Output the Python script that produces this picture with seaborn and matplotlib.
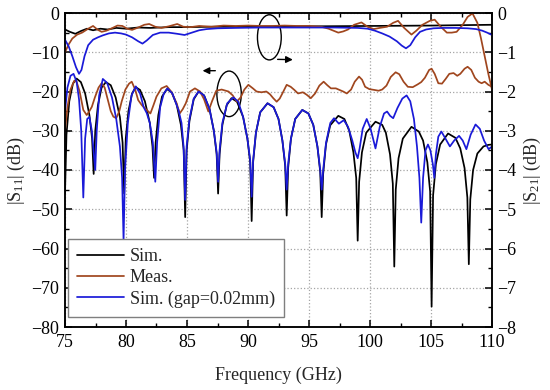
import matplotlib

matplotlib.use("Agg")
import matplotlib.pyplot as plt
import matplotlib.ticker as tick
import numpy as np
import pandas as pd
import seaborn as sns
from matplotlib.patches import Ellipse

# ------------------------------ data

# |S11| simulated (black)
SIM_S11_F = [
    75.0, 75.12, 75.35, 75.65, 75.95, 76.3, 76.65, 77.0, 77.22, 77.35,
    77.48, 77.7, 78.0, 78.35, 78.75, 79.15, 79.5, 79.72, 79.85,
    79.98, 80.2, 80.5, 80.8, 81.15, 81.55, 81.95, 82.17, 82.3,
    82.43, 82.65, 82.95, 83.35, 83.75, 84.15, 84.5, 84.73, 84.85,
    84.97, 85.2, 85.55, 85.95, 86.4, 86.85, 87.2, 87.43, 87.55,
    87.67, 87.9, 88.25, 88.65, 89.1, 89.6, 89.95, 90.18, 90.3,
    90.42, 90.65, 91.0, 91.6, 92.1, 92.5, 92.82, 93.05, 93.17,
    93.29, 93.52, 93.87, 94.45, 94.95, 95.35, 95.69, 95.92, 96.04,
    96.16, 96.39, 96.74, 97.4, 97.9, 98.3, 98.64, 98.87, 98.99,
    99.11, 99.34, 99.69, 100.45, 101.0, 101.3, 101.64, 101.87, 101.99,
    102.11, 102.34, 102.69, 103.4, 104.0, 104.35, 104.7, 104.93, 105.05,
    105.17, 105.4, 105.75, 106.4, 107.0, 107.4, 107.75, 107.98, 108.1,
    108.22, 108.45, 108.8, 109.3, 109.7, 110.0,
]
SIM_S11 = [
    -46, -31, -22.5, -18, -16.7, -17.6, -20.5, -26, -32, -41,
    -30, -23.5, -19, -17.6, -18.4, -21.5, -26.5, -33, -46,
    -32, -25, -20.5, -18.9, -19.6, -22.5, -28, -34, -42,
    -33, -26, -21.3, -19.4, -20.2, -23.3, -28.5, -35, -52,
    -35, -27.5, -22, -20, -21, -24.5, -30, -36, -46,
    -36, -28.5, -23.5, -21.7, -22.6, -26.5, -32, -38, -53,
    -38, -30.5, -25.3, -23, -24, -27, -32.5, -39, -51.6,
    -39.5, -32, -27, -24.7, -25.6, -28.5, -34, -40.5, -52,
    -41, -33.5, -28.6, -26.2, -27, -30, -35.5, -42, -58,
    -43, -35.5, -30.5, -27.7, -28.5, -30.5, -36, -43.5, -64.6,
    -45, -37, -32, -29, -30.2, -32.5, -38, -45.5, -74.8,
    -46.5, -38.5, -33.5, -30.7, -31.8, -34.5, -39.5, -47, -64,
    -47.5, -40, -35.8, -34, -33.6, -33.5,
]

# |S11| measured (brown)
MEAS_S11_F = [
    75.0, 75.2, 75.45, 75.75, 75.95, 76.2, 76.5, 76.78, 77.0, 77.2,
    77.45, 77.75, 78.0, 78.25, 78.5, 78.75, 78.96, 79.2, 79.45, 79.65,
    79.95, 80.25, 80.47, 80.75, 81.0, 81.3, 81.56, 81.8, 82.0, 82.25,
    82.5, 82.9, 83.33, 83.7, 84.0, 84.15, 84.4, 84.65, 84.9, 85.25,
    85.65, 86.07, 86.4, 86.75, 87.05, 87.4, 87.84, 88.4, 88.75, 89.07,
    89.4, 89.7, 90.03, 90.4, 90.7, 91.1, 91.5, 91.8, 92.07, 92.35,
    92.6, 92.85, 93.17, 93.5, 93.8, 94.1, 94.5, 94.8, 95.15, 95.5,
    95.85, 96.2, 96.5, 96.8, 97.2, 97.5, 97.8, 98.1, 98.45, 98.75,
    99.1, 99.35, 99.6, 99.95, 100.35, 100.7, 101.0, 101.35, 101.7, 102.1,
    102.4, 102.75, 103.1, 103.5, 103.9, 104.2, 104.5, 104.85, 105.05, 105.3,
    105.6, 105.9, 106.2, 106.5, 106.85, 107.15, 107.4, 107.75, 108.0, 108.3,
    108.6, 108.9, 109.15, 109.4, 109.7, 110.0,
]
MEAS_S11 = [
    -30, -24, -19.5, -17.3, -17.5, -20, -24.7, -26, -25, -23.9,
    -21.5, -19, -17.9, -19, -22, -25, -26.4, -26.8, -25, -22.5,
    -19.5, -18, -17.5, -19.5, -22.2, -23.5, -24.3, -25, -25.6, -23.5,
    -21.3, -19.2, -18.6, -20, -22, -23, -25.6, -24.5, -23, -20,
    -19.2, -20, -22, -25.1, -22.5, -19.8, -19.5, -20, -21, -22.6,
    -21.5, -19.5, -18.3, -19.2, -20, -20.2, -20, -20.7, -21.7, -22.6,
    -21.8, -20.3, -18.3, -18.8, -19.6, -20.5, -20.2, -20.8, -21.7, -20.5,
    -18.5, -17.5, -18.4, -19.2, -19.2, -19.6, -20, -20.5, -19.5, -17.5,
    -16.2, -17, -18.8, -19.4, -19.6, -19.8, -19.5, -18.5, -16.3, -15.1,
    -15.6, -17.5, -18.8, -18.9, -18.2, -17.6, -16.5, -14.5, -14.2, -15.5,
    -17.9, -18, -16.8, -15.5, -15.3, -16, -15.5, -14.2, -13.7, -14.5,
    -16.5, -17.5, -17.9, -17.5, -18.3, -18.8,
]

# |S11| simulated with gap=0.02mm (blue)
GAP_S11_F = [
    75.0, 75.2, 75.45, 75.7, 75.95, 76.15, 76.33, 76.5, 76.65, 76.82,
    77.0, 77.2, 77.37, 77.48, 77.6, 77.8, 78.1, 78.45, 78.85, 79.2,
    79.5, 79.68, 79.8, 79.92, 80.15, 80.45, 80.8, 81.15, 81.45, 81.7,
    81.95, 82.2, 82.4, 82.55, 82.8, 83.1, 83.4, 83.8, 84.1, 84.3,
    84.55, 84.72, 84.85, 84.97, 85.2, 85.55, 85.95, 86.4, 86.85, 87.2,
    87.43, 87.55, 87.67, 87.9, 88.3, 88.8, 89.2, 89.6, 89.95, 90.18,
    90.3, 90.42, 90.65, 91.0, 91.6, 92.1, 92.5, 92.82, 93.05, 93.17,
    93.29, 93.52, 93.87, 94.45, 94.95, 95.35, 95.69, 95.92, 96.04, 96.16,
    96.4, 96.75, 97.05, 97.45, 97.85, 98.2, 98.55, 98.8, 98.99, 99.15,
    99.4, 99.73, 100.05, 100.45, 100.8, 101.15, 101.4, 101.65, 101.9, 102.25,
    102.65, 103.0, 103.3, 103.6, 103.85, 104.05, 104.2, 104.35, 104.55, 104.75,
    104.95, 105.15, 105.27, 105.4, 105.6, 105.85, 106.15, 106.55, 106.9, 107.3,
    107.6, 107.9, 108.25, 108.65, 109.0, 109.35, 109.72, 110.0,
]
GAP_S11 = [
    -25, -19, -16, -15.5, -17.5, -22, -30, -47, -32, -27,
    -26.5, -30, -36, -40, -30, -21, -16.8, -17.8, -21.5, -27,
    -34, -42, -58, -40, -28, -21, -18.7, -20.5, -24, -25.5,
    -28, -33, -43, -33, -24, -20.5, -19.2, -20.5, -23, -24.7,
    -28, -34, -47.6, -34, -27, -21.8, -20, -21, -24.5, -30,
    -35.5, -43, -35, -28, -23, -21.5, -22.6, -26.5, -32, -37.5,
    -46.8, -37.5, -30.5, -25.3, -23, -24, -27, -32.5, -38.5, -45,
    -38.5, -32, -27, -24.7, -25.6, -28.5, -34, -40, -45, -40,
    -33, -28, -26.8, -28.2, -27.3, -29, -32.5, -35.5, -37, -34.5,
    -29.5, -27, -29.5, -34.5, -29, -25.6, -25.1, -26.2, -26.8, -24.2,
    -21.8, -21, -22.5, -27, -34, -42, -53.4, -42, -35, -33.5,
    -35, -38.5, -42, -36, -31.5, -30.2, -31.8, -34, -32.5, -31.3,
    -32.5, -34.7, -31, -28.4, -29.5, -32.5, -34.7, -34,
]

# |S21| (right axis)
SIM_S21_F = [75.0, 75.4, 75.85, 76.3, 76.8, 77.3, 77.9, 78.5, 79.2, 80.0,
             81.0, 82.0, 83.5, 85.0, 87.0, 90.0, 95.0, 100.0, 105.0, 110.0]
SIM_S21 = [-0.42, -0.48, -0.53, -0.46, -0.4, -0.44, -0.4, -0.42, -0.38, -0.4,
           -0.37, -0.38, -0.36, -0.36, -0.35, -0.35, -0.34, -0.33, -0.32, -0.3]

MEAS_S21_F = [
    75.0, 75.3, 75.6, 76.0, 76.4, 76.9, 77.3, 77.65, 78.0, 78.4,
    78.9, 79.3, 79.7, 80.1, 80.5, 81.0, 81.5, 81.9, 82.4, 82.9,
    83.5, 84.2, 84.7, 85.3, 86.0, 87.0, 88.0, 89.0, 90.0, 91.0,
    92.0, 93.0, 94.0, 95.0, 96.0, 96.6, 97.0, 97.4, 97.8, 98.2,
    98.7, 99.3, 99.8, 100.3, 100.8, 101.4, 101.9, 102.3, 102.8, 103.4,
    103.8, 104.3, 104.9, 105.3, 105.8, 106.3, 106.7, 107.1, 107.6, 108.0,
    108.4, 108.8, 109.1, 109.4, 109.7, 110.0,
]
MEAS_S21 = [
    -1.0, -0.8, -0.65, -0.55, -0.5, -0.4, -0.33, -0.42, -0.48, -0.45,
    -0.38, -0.32, -0.33, -0.4, -0.43, -0.37, -0.3, -0.28, -0.35, -0.38,
    -0.34, -0.28, -0.35, -0.36, -0.33, -0.35, -0.32, -0.33, -0.32, -0.33,
    -0.33, -0.32, -0.33, -0.33, -0.35, -0.4, -0.45, -0.5, -0.47, -0.42,
    -0.3, -0.24, -0.35, -0.41, -0.38, -0.35, -0.25, -0.2, -0.38, -0.55,
    -0.45, -0.3, -0.2, -0.17, -0.35, -0.5, -0.5, -0.48, -0.3, -0.1,
    -0.01, -0.25, -0.65, -1.1, -1.55, -1.95,
]

GAP_S21_F = [
    75.0, 75.3, 75.6, 75.9, 76.15, 76.35, 76.6, 76.9, 77.3, 77.7,
    78.1, 78.6, 79.1, 79.6, 80.0, 80.5, 81.0, 81.35, 81.7, 82.2,
    82.8, 83.5, 84.2, 84.8, 85.4, 86.0, 86.6, 87.5, 89.0, 91.0,
    93.0, 95.0, 97.0, 99.0, 99.8, 100.4, 101.0, 101.6, 102.2, 102.6,
    102.95, 103.3, 103.7, 104.1, 104.6, 105.2, 106.0, 107.0, 108.0, 108.7,
    109.2, 109.6, 110.0,
]
GAP_S21 = [
    -0.68, -0.85, -1.1, -1.38, -1.55, -1.45, -1.1, -0.82, -0.68, -0.62,
    -0.57, -0.52, -0.5, -0.52, -0.55, -0.62, -0.72, -0.78, -0.7, -0.56,
    -0.5, -0.5, -0.53, -0.56, -0.5, -0.44, -0.41, -0.39, -0.38, -0.37,
    -0.37, -0.37, -0.37, -0.38, -0.4, -0.45, -0.52, -0.6, -0.72, -0.83,
    -0.9, -0.82, -0.62, -0.48, -0.42, -0.39, -0.38, -0.38, -0.39, -0.41,
    -0.45, -0.5, -0.56,
]

SERIES = ["Sim.", "Meas.", "Sim. (gap=0.02mm)"]

# ------------------------------ style

PALETTE = {
    "Sim.": "#000000",
    "Meas.": "#a0461e",
    "Sim. (gap=0.02mm)": "#1a1ad8",
}
GRID_GREY = "#a5a5a5"
FONT_SIZE = 13

sns.set_style("ticks")
plt.rcParams.update({
    "font.family": ["Liberation Serif", "DejaVu Serif"],
    "mathtext.fontset": "custom",
    "mathtext.rm": "Liberation Serif",
    "mathtext.it": "Liberation Serif:italic",
    "font.size": FONT_SIZE,
    "axes.linewidth": 1.1,
    "xtick.direction": "in",
    "ytick.direction": "in",
    "xtick.major.size": 5,
    "ytick.major.size": 5,
    "xtick.minor.size": 3,
    "ytick.minor.size": 3,
    "xtick.major.width": 1.1,
    "ytick.major.width": 1.1,
    "xtick.minor.width": 1.0,
    "ytick.minor.width": 1.0,
    "xtick.color": "black",
    "ytick.color": "black",
    "axes.edgecolor": "black",
})

DPI = 100
FIGSIZE = (550 / DPI, 390 / DPI)


def long_df(pairs):
    frames = []
    for name, (f, v) in zip(SERIES, pairs):
        frames.append(pd.DataFrame({"freq": f, "val": v, "series": name}))
    return pd.concat(frames, ignore_index=True)


def main():
    s11 = long_df([(SIM_S11_F, SIM_S11), (MEAS_S11_F, MEAS_S11), (GAP_S11_F, GAP_S11)])
    s21 = long_df([(SIM_S21_F, SIM_S21), (MEAS_S21_F, MEAS_S21), (GAP_S21_F, GAP_S21)])

    fig = plt.figure(figsize=FIGSIZE, dpi=DPI)
    ax = fig.add_axes([65 / 550, 1 - 327 / 390, 427 / 550, 314 / 390])
    ax2 = ax.twinx()

    sns.lineplot(data=s11, x="freq", y="val", hue="series", hue_order=SERIES,
                 palette=PALETTE, estimator=None, linewidth=1.25, legend=False, ax=ax)
    sns.lineplot(data=s21, x="freq", y="val", hue="series", hue_order=SERIES,
                 palette=PALETTE, estimator=None, linewidth=1.25, legend=False, ax=ax2)

    # left axis
    ax.set_xlim(75, 110)
    ax.set_ylim(-80, 0)
    ax.xaxis.set_major_locator(tick.MultipleLocator(5))
    ax.xaxis.set_minor_locator(tick.MultipleLocator(2.5))
    ax.yaxis.set_major_locator(tick.MultipleLocator(10))
    ax.yaxis.set_minor_locator(tick.MultipleLocator(5))
    ax.tick_params(which="both", top=True, right=False, labelsize=FONT_SIZE)
    ax.tick_params(axis="x", pad=5)
    ax.tick_params(axis="y", pad=4)
    ax.grid(True, which="major", linestyle=":", color=GRID_GREY, linewidth=0.9)
    ax.set_xlabel("Frequency (GHz)", fontsize=FONT_SIZE, labelpad=11)
    ax.set_ylabel(r"$|\mathrm{S}_{11}|$ (dB)", fontsize=FONT_SIZE, labelpad=3)

    # right axis
    ax2.set_ylim(-8, 0)
    ax2.yaxis.set_major_locator(tick.MultipleLocator(1))
    ax2.yaxis.set_minor_locator(tick.MultipleLocator(0.5))
    ax2.tick_params(which="both", labelsize=FONT_SIZE, pad=4)
    ax2.set_ylabel(r"$|\mathrm{S}_{21}|$ (dB)", fontsize=FONT_SIZE)
    ax2.set_xlabel("")

    # ellipse markers with arrows
    ax.add_patch(Ellipse((91.75, -6.2), 1.95, 11.5, fill=False, color="black", lw=1.0))
    ax.annotate("", xy=(93.9, -11.9), xytext=(92.2, -11.8),
                arrowprops=dict(arrowstyle="-|>", color="black", lw=1.0, mutation_scale=10))
    ax.add_patch(Ellipse((88.45, -20.6), 2.0, 11.6, fill=False, color="black", lw=1.0))
    ax.annotate("", xy=(86.05, -14.7), xytext=(87.55, -14.7),
                arrowprops=dict(arrowstyle="-|>", color="black", lw=1.0, mutation_scale=10))

    handles = [plt.Line2D([], [], color=PALETTE[n], lw=1.25) for n in SERIES]
    leg = ax.legend(handles, SERIES, loc="lower left", bbox_to_anchor=(0.008, 0.033),
                    borderaxespad=0, fancybox=False, framealpha=1, edgecolor="#7f7f7f",
                    fontsize=FONT_SIZE, handlelength=2.6, handletextpad=0.3,
                    labelspacing=0.22, borderpad=0.5)
    leg.get_frame().set_linewidth(1.0)

    fig.savefig("out.png", dpi=DPI)
    plt.close(fig)


if __name__ == "__main__":
    main()
